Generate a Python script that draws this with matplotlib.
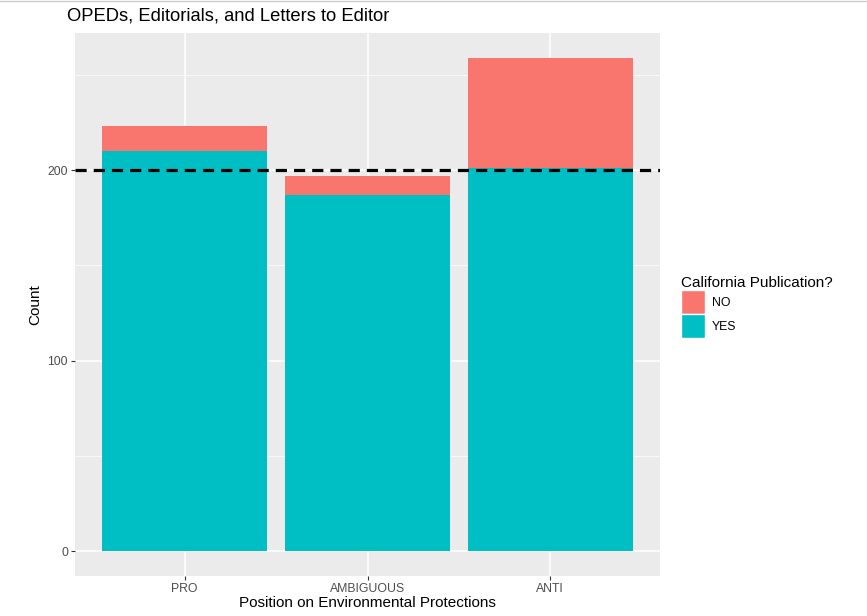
import matplotlib.pyplot as plt
from matplotlib.patches import Patch
from matplotlib.ticker import MultipleLocator

positions = ["PRO", "AMBIGUOUS", "ANTI"]
yes_counts = [210, 187, 201]
no_counts = [13, 10, 58]
threshold = 200

C_NO = "#F8766D"
C_YES = "#00BFC4"

plt.rcParams["font.family"] = ["Liberation Sans", "DejaVu Sans"]

fig = plt.figure(figsize=(8.67, 6.16), dpi=100)
ax = fig.add_axes([75 / 867, 1 - 576 / 616, 585 / 867, 543 / 616])
ax.set_facecolor("#EBEBEB")

x = list(range(1, len(positions) + 1))
ax.bar(x, yes_counts, width=0.9, color=C_YES, zorder=2)
ax.bar(x, no_counts, width=0.9, bottom=yes_counts, color=C_NO, zorder=2)
ax.axhline(threshold, color="black", lw=2.3, dashes=(3.5, 2.2), zorder=3)

tot = max(y + n for y, n in zip(yes_counts, no_counts))
ax.set_xlim(0.4, len(positions) + 0.6)
ax.set_ylim(-0.05 * tot, tot * 1.05)

ax.set_xticks(x)
ax.set_xticklabels(positions)
ax.yaxis.set_major_locator(MultipleLocator(100))
ax.yaxis.set_minor_locator(MultipleLocator(50))
ax.grid(True, which="major", color="white", lw=1.1, zorder=0)
ax.grid(True, which="minor", axis="y", color="white", lw=0.5, zorder=0)
ax.set_axisbelow(True)
for s in ax.spines.values():
    s.set_visible(False)
ax.tick_params(which="major", length=3, width=0.8, color="#333333",
               labelsize=8.8, labelcolor="#4D4D4D", pad=2)
ax.tick_params(which="minor", length=0)

ax.set_xlabel("Position on Environmental Protections", fontsize=11, labelpad=1)
ax.set_ylabel("Count", fontsize=11, labelpad=4)
ax.set_title("OPEDs, Editorials, and Letters to Editor", fontsize=13.2,
             loc="left", x=-0.014, pad=9)

handles = [Patch(facecolor=C_NO, edgecolor="white", label="NO"),
           Patch(facecolor=C_YES, edgecolor="white", label="YES")]
leg = fig.legend(handles=handles, title="California Publication?",
                 loc="center left", bbox_to_anchor=(676 / 867, 1 - 307 / 616),
                 frameon=False, fontsize=8.8, title_fontsize=11,
                 handlelength=1.96, handleheight=2.64, handletextpad=0.6,
                 labelspacing=0.0, borderaxespad=0)
leg._legend_box.align = "left"

fig.add_artist(plt.Line2D([0, 1], [0.999, 0.999], color="#CCCCCC", lw=1,
                          transform=fig.transFigure))

fig.savefig("out.png", dpi=100)
